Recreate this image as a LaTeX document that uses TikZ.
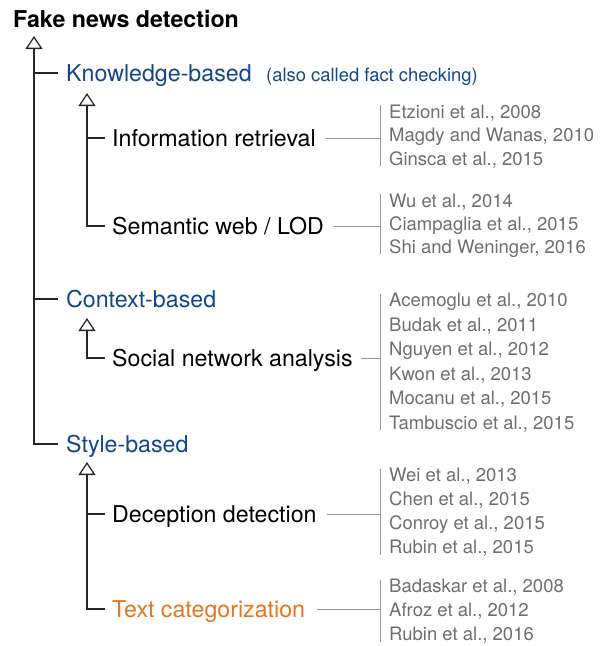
\documentclass[tikz,border=0pt]{standalone}
\usepackage{fontspec}
\setmainfont{TeX Gyre Heros}
\usetikzlibrary{arrows.meta,calc}
\definecolor{kblue}{HTML}{12468A}
\definecolor{korange}{HTML}{E8741C}
\definecolor{refgray}{HTML}{6E6E6E}
\definecolor{linegray}{HTML}{959595}
\definecolor{treegray}{HTML}{262626}
\tikzset{
  titlenode/.style={anchor=base west, inner sep=0pt, font=\bfseries\fontsize{23.2}{28}\selectfont},
  cat/.style={anchor=base west, inner sep=0pt, text height=16pt, text depth=0pt, font=\fontsize{23.2}{28}\selectfont},
  note/.style={anchor=base west, inner sep=0pt, text=kblue, font=\fontsize{18.4}{22}\selectfont},
  ref/.style={anchor=base west, inner sep=0pt, text=refgray, font=\fontsize{18.5}{22}\selectfont},
  tline/.style={line width=1.3pt, treegray},
  tri/.style={-{Triangle[open, length=13pt, width=17pt]}},
  gline/.style={line width=1pt, linegray}
}
\begin{document}
\begin{tikzpicture}[x=1pt, y=-1pt]
\useasboundingbox (0,0) rectangle (603,646);
% title and categories
\node[titlenode] (title) at (13,27) {Fake news detection};
\node[cat, text=kblue] (kb) at (66,81) {Knowledge-based};
\node[note] (kbn) at (266,81) {(also called fact checking)};
\node[cat] (ir) at (112,146) {Information retrieval};
\node[cat] (sw) at (112,234) {Semantic web / LOD};
\node[cat, text=kblue] (cb) at (66,307) {Context-based};
\node[cat] (sn) at (112,366) {Social network analysis};
\node[cat, text=kblue] (sb) at (66,452) {Style-based};
\node[cat] (dd) at (112,522) {Deception detection};
\node[cat, text=korange] (tc) at (112,617) {Text categorization};
% references
\node[ref] (a1) at (389,118.3) {Etzioni et al., 2008};
\node[ref] (a2) at (389,141.7) {Magdy and Wanas, 2010};
\node[ref] (a3) at (389,165) {Ginsca et al., 2015};
\node[ref] (b1) at (389,207) {Wu et al., 2014};
\node[ref] (b2) at (389,230) {Ciampaglia et al., 2015};
\node[ref] (b3) at (389,253) {Shi and Weninger, 2016};
\node[ref] (c1) at (389,306.5) {Acemoglu et al., 2010};
\node[ref] (c2) at (389,331) {Budak et al., 2011};
\node[ref] (c3) at (389,355.5) {Nguyen et al., 2012};
\node[ref] (c4) at (389,380) {Kwon et al., 2013};
\node[ref] (c5) at (389,404.5) {Mocanu et al., 2015};
\node[ref] (c6) at (389,429) {Tambuscio et al., 2015};
\node[ref] (d1) at (389,481.5) {Wei et al., 2013};
\node[ref] (d2) at (389,505.5) {Chen et al., 2015};
\node[ref] (d3) at (389,529.5) {Conroy et al., 2015};
\node[ref] (d4) at (389,553.5) {Rubin et al., 2015};
\node[ref] (e1) at (389,592.5) {Badaskar et al., 2008};
\node[ref] (e2) at (389,616.5) {Afroz et al., 2012};
\node[ref] (e3) at (389,640.5) {Rubin et al., 2016};
% main tree
\coordinate (r0) at (34,36);
\draw[tline,tri] ([xshift=-8pt]sb.west) -| (r0);
\draw[tline] ([xshift=-8pt]kb.west) -- (kb.west -| r0);
\draw[tline] ([xshift=-8pt]cb.west) -- (cb.west -| r0);
% knowledge subtree
\coordinate (r1) at (87,93);
\draw[tline,tri] ([xshift=-7pt]sw.west) -| (r1);
\draw[tline] ([xshift=-7pt]ir.west) -- (ir.west -| r1);
% context subtree
\coordinate (r2) at (87,318);
\draw[tline,tri] ([xshift=-7pt]sn.west) -| (r2);
% style subtree
\coordinate (r3) at (87,462);
\draw[tline,tri] ([xshift=-7pt]tc.west) -| (r3);
\draw[tline] ([xshift=-7pt]dd.west) -- (dd.west -| r3);
% reference brackets
\draw[gline] ($(a1.base west)+(-9,-13)$) -- ($(a3.base west)+(-9,1)$);
\draw[gline] ([xshift=10pt]ir.east) -- ($(ir.east -| a1.west)+(-9,0)$);
\draw[gline] ($(b1.base west)+(-9,-13)$) -- ($(b3.base west)+(-9,1)$);
\draw[gline] ([xshift=10pt]sw.east) -- ($(sw.east -| b1.west)+(-9,0)$);
\draw[gline] ($(c1.base west)+(-9,-13)$) -- ($(c6.base west)+(-9,1)$);
\draw[gline] ([xshift=8pt]sn.east) -- ($(sn.east -| c1.west)+(-9,0)$);
\draw[gline] ($(d1.base west)+(-9,-13)$) -- ($(d4.base west)+(-9,1)$);
\draw[gline] ([xshift=10pt]dd.east) -- ($(dd.east -| d1.west)+(-9,0)$);
\draw[gline] ($(e1.base west)+(-9,-13)$) -- ($(e3.base west)+(-9,1)$);
\draw[gline] ([xshift=12pt]tc.east) -- ($(tc.east -| e1.west)+(-9,0)$);
\end{tikzpicture}
\end{document}
